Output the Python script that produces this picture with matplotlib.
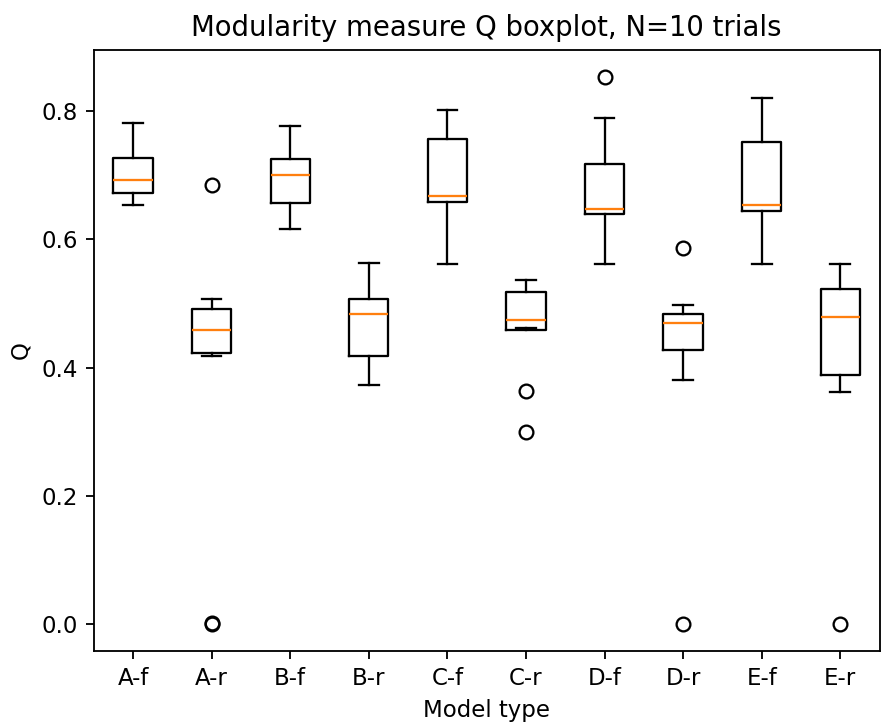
import matplotlib
matplotlib.use("Agg")
import matplotlib.pyplot as plt

labels = ["A-f", "A-r", "B-f", "B-r", "C-f", "C-r", "D-f", "D-r", "E-f", "E-r"]
# five-number summaries per model type
whis_lo = [0.654, 0.418, 0.616, 0.373, 0.561, 0.462, 0.561, 0.380, 0.561, 0.362]
q1      = [0.672, 0.423, 0.657, 0.418, 0.658, 0.459, 0.640, 0.428, 0.644, 0.388]
median  = [0.693, 0.459, 0.700, 0.484, 0.667, 0.474, 0.647, 0.469, 0.654, 0.479]
q3      = [0.727, 0.492, 0.726, 0.507, 0.756, 0.518, 0.718, 0.484, 0.752, 0.522]
whis_hi = [0.782, 0.507, 0.777, 0.563, 0.802, 0.537, 0.789, 0.497, 0.821, 0.561]
outliers = [[], [0.685, 0.0, 0.001], [], [], [], [0.364, 0.299], [0.853], [0.587, 0.0], [], [0.0]]

stats = []
for i, lab in enumerate(labels):
    stats.append(dict(label=lab, whislo=whis_lo[i], q1=q1[i], med=median[i],
                      q3=q3[i], whishi=whis_hi[i], fliers=outliers[i]))

DPI = 165
fig = plt.figure(figsize=(893 / DPI, 722 / DPI), dpi=DPI)
ax = fig.add_axes([0.105, 0.098, 0.88, 0.833])
ax.bxp(stats, widths=0.5, showfliers=True)
ax.set_title("Modularity measure Q boxplot, N=10 trials")
ax.set_xlabel("Model type")
ax.set_ylabel("Q")
ax.set_yticks([0.0, 0.2, 0.4, 0.6, 0.8])
plt.savefig("out.png", dpi=DPI)
